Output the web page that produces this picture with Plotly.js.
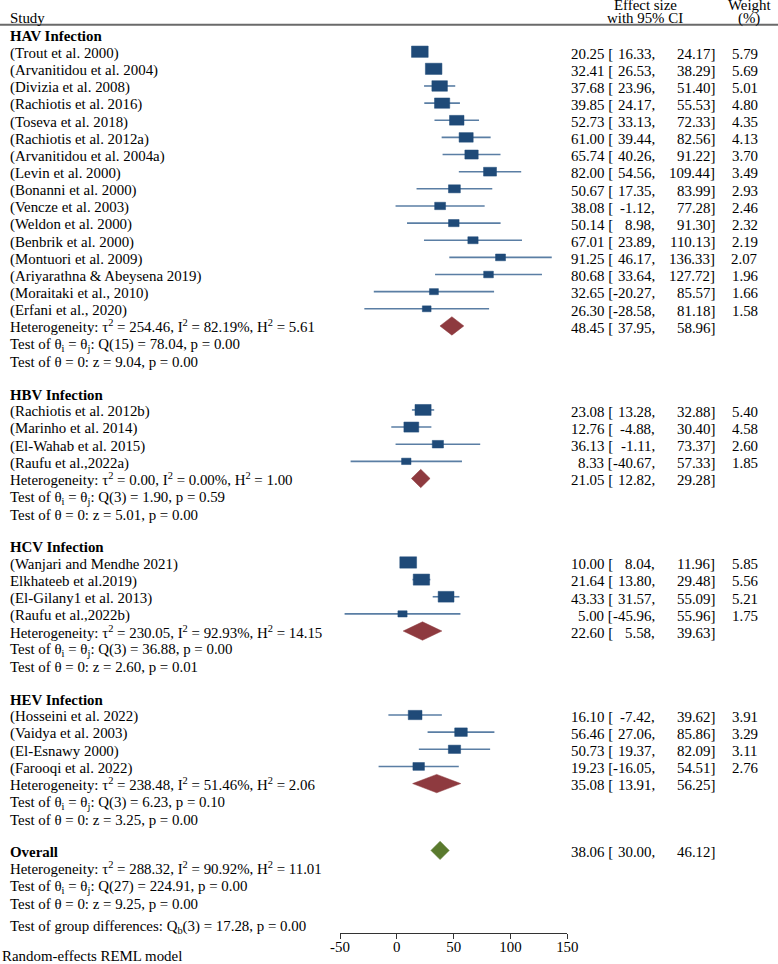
<!DOCTYPE html>
<html><head><meta charset="utf-8">
<script src="https://cdn.plot.ly/plotly-3.0.1.min.js"></script>
<style>html,body{margin:0;padding:0;background:#fff}</style>
</head><body><div id="chart" style="width:778px;height:964px"></div>
<script>
// ---------------- DATA ----------------
const groupNames = ['HAV Infection', 'HBV Infection', 'HCV Infection', 'HEV Infection'];

const havStudies = ['(Trout et al. 2000)', '(Arvanitidou et al. 2004)', '(Divizia et al. 2008)', '(Rachiotis et al. 2016)',
  '(Toseva et al. 2018)', '(Rachiotis et al. 2012a)', '(Arvanitidou et al. 2004a)', '(Levin et al. 2000)',
  '(Bonanni et al. 2000)', '(Vencze et al. 2003)', '(Weldon et al. 2000)', '(Benbrik et al. 2000)',
  '(Montuori et al. 2009)', '(Ariyarathna & Abeysena 2019)', '(Moraitaki et al., 2010)', '(Erfani et al., 2020)'];
const havEst = [20.25, 32.41, 37.68, 39.85, 52.73, 61.00, 65.74, 82.00, 50.67, 38.08, 50.14, 67.01, 91.25, 80.68, 32.65, 26.30];
const havLo = [16.33, 26.53, 23.96, 24.17, 33.13, 39.44, 40.26, 54.56, 17.35, -1.12, 8.98, 23.89, 46.17, 33.64, -20.27, -28.58];
const havHi = [24.17, 38.29, 51.40, 55.53, 72.33, 82.56, 91.22, 109.44, 83.99, 77.28, 91.30, 110.13, 136.33, 127.72, 85.57, 81.18];
const havWeight = [5.79, 5.69, 5.01, 4.80, 4.35, 4.13, 3.70, 3.49, 2.93, 2.46, 2.32, 2.19, 2.07, 1.96, 1.66, 1.58];

const hbvStudies = ['(Rachiotis et al. 2012b)', '(Marinho et al. 2014)', '(El-Wahab et al. 2015)', '(Raufu et al.,2022a)'];
const hbvEst = [23.08, 12.76, 36.13, 8.33];
const hbvLo = [13.28, -4.88, -1.11, -40.67];
const hbvHi = [32.88, 30.40, 73.37, 57.33];
const hbvWeight = [5.40, 4.58, 2.60, 1.85];

const hcvStudies = ['(Wanjari and Mendhe 2021)', 'Elkhateeb et al.2019)', '(El-Gilany1 et al. 2013)', '(Raufu et al.,2022b)'];
const hcvEst = [10.00, 21.64, 43.33, 5.00];
const hcvLo = [8.04, 13.80, 31.57, -45.96];
const hcvHi = [11.96, 29.48, 55.09, 55.96];
const hcvWeight = [5.85, 5.56, 5.21, 1.75];

const hevStudies = ['(Hosseini et al. 2022)', '(Vaidya et al. 2003)', '(El-Esnawy 2000)', '(Farooqi et al. 2022)'];
const hevEst = [16.10, 56.46, 50.73, 19.23];
const hevLo = [-7.42, 27.06, 19.37, -16.05];
const hevHi = [39.62, 85.86, 82.09, 54.51];
const hevWeight = [3.91, 3.29, 3.11, 2.76];

const pooledEst = [48.45, 21.05, 22.60, 35.08];
const pooledLo = [37.95, 12.82, 5.58, 13.91];
const pooledHi = [58.96, 29.28, 39.63, 56.25];
const pooledTau2 = [254.46, 0.00, 230.05, 238.48];
const pooledI2 = [82.19, 0.00, 92.93, 51.46];
const pooledH2 = [5.61, 1.00, 14.15, 2.06];
const pooledQdf = [15, 3, 3, 3];
const pooledQ = [78.04, 1.90, 36.88, 6.23];
const pooledQp = [0.00, 0.59, 0.00, 0.10];
const pooledZ = [9.04, 5.01, 2.60, 3.25];
const pooledZp = [0.00, 0.00, 0.01, 0.00];

const overallEst = 38.06, overallLo = 30.00, overallHi = 46.12;
const overallTau2 = 288.32, overallI2 = 90.92, overallH2 = 11.01;
const overallQdf = 27, overallQ = 224.91, overallQp = 0.00, overallZ = 9.25, overallZp = 0.00;
const groupDiffDf = 3, groupDiffQ = 17.28, groupDiffP = 0.00;

const xTicks = [-50, 0, 50, 100, 150];

// ---------------- LAYOUT CONSTANTS ----------------
const W = 778, H = 964;
const PX0 = 340, PX1 = 567.3;
const AXIS_Y = 933;
const ROW_PX = 17.14, ROW0_PX = 34.56;
const rTop = -ROW0_PX / ROW_PX, rBot = (AXIS_Y - ROW0_PX) / ROW_PX;
const FONT = 'Liberation Serif, Times New Roman, serif';
const FS = 14.9;
const TSHIFT = -1.8;
const pxPerUnit = (PX1 - PX0) / 200;
const SQ_WX = 6.94 / 2 / pxPerUnit;   // half width per sqrt(weight), data units
const SQ_HY = 4.7 / 2 / ROW_PX;       // half height per sqrt(weight), rows
const DIA_H = 9.2 / ROW_PX;

const C_SQ = '#1f4a78', C_CI = '#5a7ea4', C_DIA = '#8e3a3f', C_OV = '#5a7a2e';

const groups = [
  {studies: havStudies, est: havEst, lo: havLo, hi: havHi, wt: havWeight},
  {studies: hbvStudies, est: hbvEst, lo: hbvLo, hi: hbvHi, wt: hbvWeight},
  {studies: hcvStudies, est: hcvEst, lo: hcvLo, hi: hcvHi, wt: hcvWeight},
  {studies: hevStudies, est: hevEst, lo: hevLo, hi: hevHi, wt: hevWeight}
];

const traces = [], ann = [];
const f2 = v => v.toFixed(2);
function txt(t, xp, r, anchor, shift) {
  ann.push({
    text: t, x: xp / W, xref: 'paper', y: r, yref: 'y', xanchor: anchor, yanchor: 'middle',
    yshift: (shift === undefined ? TSHIFT : shift),
    showarrow: false, font: {family: FONT, size: FS, color: '#000'}
  });
}
function numCols(r, e, lo, hi, w) {
  txt(f2(e) + ' [', 615, r, 'right');
  txt(f2(lo) + ',', 657, r, 'right');
  txt(f2(hi) + ']', 717, r, 'right');
  if (w !== undefined) txt(f2(w), 760, r, 'right');
}
function diamond(r, e, lo, hi, color) {
  traces.push({x: [lo, e, hi, e, lo], y: [r, r - DIA_H, r, r + DIA_H, r], mode: 'lines', fill: 'toself',
    fillcolor: color, line: {color: color, width: 0.5}, hoverinfo: 'skip', showlegend: false});
}

// header
txt('Study', 8, -1.0, 'left', -0.8);
txt('Effect size', 645, -1.70, 'center', 0);
txt('with 95% CI', 645, -1.0, 'center', -1);
txt('Weight', 749, -1.70, 'center', 0);
txt('(%)', 749, -1.0, 'center', -1);

const ciX = [], ciY = [];
let r = 0;
groups.forEach((g, gi) => {
  txt('<b>' + groupNames[gi] + '</b>', 8, r, 'left');
  g.studies.forEach((s, i) => {
    r += 1;
    txt(s, 8, r, 'left');
    numCols(r, g.est[i], g.lo[i], g.hi[i], g.wt[i]);
    ciX.push(g.lo[i], g.hi[i], null); ciY.push(r, r, null);
    const a = SQ_WX * Math.sqrt(g.wt[i]), b = SQ_HY * Math.sqrt(g.wt[i]), e = g.est[i];
    traces.push({x: [e - a, e + a, e + a, e - a, e - a], y: [r - b, r - b, r + b, r + b, r - b], mode: 'lines',
      fill: 'toself', fillcolor: C_SQ, line: {color: C_SQ, width: 0.5}, hoverinfo: 'skip', showlegend: false});
  });
  r += 1;
  txt('Heterogeneity: τ<sup>2</sup> = ' + f2(pooledTau2[gi]) + ', I<sup>2</sup> = ' + f2(pooledI2[gi]) + '%, H<sup>2</sup> = ' + f2(pooledH2[gi]), 8, r, 'left', -0.5);
  numCols(r, pooledEst[gi], pooledLo[gi], pooledHi[gi]);
  diamond(r, pooledEst[gi], pooledLo[gi], pooledHi[gi], C_DIA);
  r += 1;
  txt('Test of θ<sub>i</sub> = θ<sub>j</sub>: Q(' + pooledQdf[gi] + ') = ' + f2(pooledQ[gi]) + ', p = ' + f2(pooledQp[gi]), 8, r, 'left', -2);
  r += 1;
  txt('Test of θ = 0: z = ' + f2(pooledZ[gi]) + ', p = ' + f2(pooledZp[gi]), 8, r, 'left');
  r += 1.9;
});
// overall
txt('<b>Overall</b>', 8, r, 'left');
numCols(r, overallEst, overallLo, overallHi);
diamond(r, overallEst, overallLo, overallHi, C_OV);
r += 1;
txt('Heterogeneity: τ<sup>2</sup> = ' + f2(overallTau2) + ', I<sup>2</sup> = ' + f2(overallI2) + '%, H<sup>2</sup> = ' + f2(overallH2), 8, r, 'left', -0.5);
r += 1;
txt('Test of θ<sub>i</sub> = θ<sub>j</sub>: Q(' + overallQdf + ') = ' + f2(overallQ) + ', p = ' + f2(overallQp), 8, r, 'left', -2);
r += 1;
txt('Test of θ = 0: z = ' + f2(overallZ) + ', p = ' + f2(overallZp), 8, r, 'left');
r += 1.35;
txt('Test of group differences: Q<sub>b</sub>(' + groupDiffDf + ') = ' + f2(groupDiffQ) + ', p = ' + f2(groupDiffP), 8, r, 'left', -2);

ann.push({text: 'Random-effects REML model', x: 0, xref: 'paper', y: (H - 956) / H, yref: 'paper',
  xanchor: 'left', yanchor: 'middle', showarrow: false, font: {family: FONT, size: FS, color: '#000'}});

traces.unshift({x: ciX, y: ciY, mode: 'lines', line: {color: C_CI, width: 1.6}, hoverinfo: 'skip', showlegend: false, connectgaps: false});

const layout = {
  width: W, height: H,
  margin: {l: 0, r: 0, t: 0, b: 0},
  paper_bgcolor: '#fff', plot_bgcolor: '#fff',
  showlegend: false,
  xaxis: {domain: [PX0 / W, PX1 / W], range: [-50, 150], tickvals: xTicks, ticktext: xTicks.map(String),
    showgrid: false, zeroline: false, showline: true, linecolor: '#333', linewidth: 1,
    ticks: 'outside', ticklen: 5, tickcolor: '#333', ticklabelstandoff: -5,
    tickfont: {family: FONT, size: FS, color: '#000'}, fixedrange: true},
  yaxis: {domain: [(H - AXIS_Y) / H, 1], range: [rBot, rTop], visible: false, fixedrange: true},
  annotations: ann,
  shapes: [{type: 'line', xref: 'paper', yref: 'paper', x0: 0, x1: 1, y0: 1 - 24.8 / H, y1: 1 - 24.8 / H,
    line: {color: '#6a6a6a', width: 2}}]
};
Plotly.newPlot('chart', traces, layout, {displayModeBar: false, staticPlot: true});
</script></body></html>
